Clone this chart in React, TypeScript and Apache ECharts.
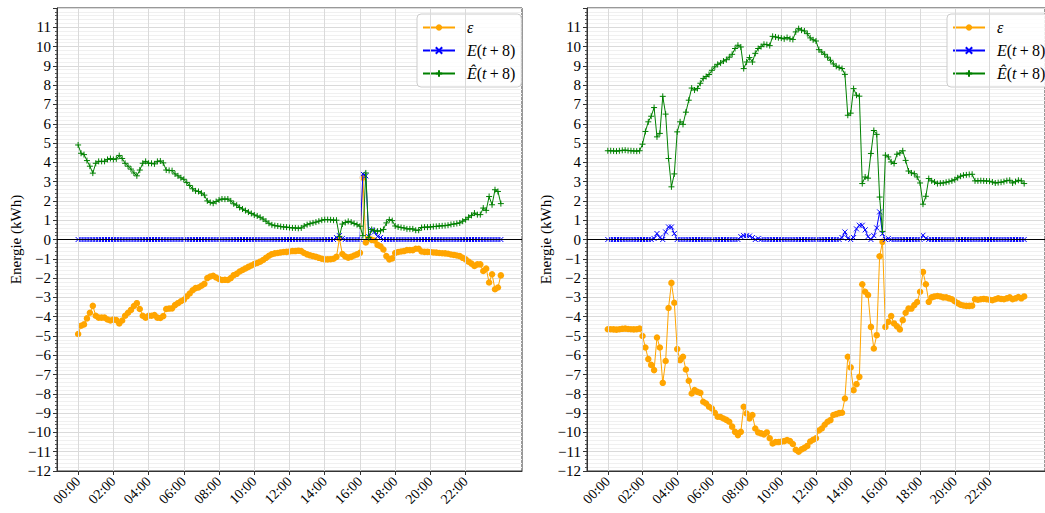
import React, { useEffect, useRef } from "react";
import * as echarts from "echarts";

const STEP_MIN = 10;
const TICK_VALUES = [0, 120, 240, 360, 480, 600, 720, 840, 960, 1080, 1200, 1320];
const TICK_LABELS = ["00:00", "02:00", "04:00", "06:00", "08:00", "10:00", "12:00", "14:00", "16:00", "18:00", "20:00", "22:00"];

// ---------- left panel ----------
const leftEps = [
  -4.9, -4.47, -4.4, -4.09, -3.8, -3.44, -3.95, -4.05, -4.05, -4.05,
  -4.15, -4.2, -4.15, -4.18, -4.35, -4.2, -3.95, -3.8, -3.65, -3.45,
  -3.3, -3.6, -3.95, -4.05, -3.95, -3.95, -3.92, -4.05, -4.07, -3.97,
  -3.6, -3.58, -3.57, -3.4, -3.3, -3.2, -3.12, -2.95, -2.8, -2.63,
  -2.52, -2.49, -2.4, -2.3, -2.0, -1.92, -1.88, -1.97, -2.05, -2.1,
  -2.09, -2.1, -2.0, -1.85, -1.78, -1.66, -1.58, -1.5, -1.42, -1.35,
  -1.27, -1.22, -1.15, -1.06, -0.95, -0.84, -0.76, -0.72, -0.7, -0.67,
  -0.65, -0.64, -0.62, -0.6, -0.6, -0.58, -0.6, -0.7, -0.77, -0.82,
  -0.86, -0.9, -0.95, -1.0, -1.03, -1.03, -1.02, -1.0, -0.9, 0.05,
  -0.75, -0.88, -0.94, -0.9, -0.83, -0.77, -0.69, 3.2, -0.15, 0.05,
  -0.02, -0.05, -0.28, -0.35, -0.52, -0.86, -1.03, -0.98, -0.7, -0.65,
  -0.62, -0.6, -0.55, -0.55, -0.55, -0.48, -0.48, -0.62, -0.64, -0.64,
  -0.65, -0.67, -0.68, -0.7, -0.71, -0.72, -0.74, -0.78, -0.8, -0.83,
  -0.86, -0.95, -1.03, -1.15, -1.25, -1.37, -1.29, -1.29, -1.63, -1.51,
  -2.23, -1.8, -2.58, -2.49, -1.86,
];
const leftE = [
  0, 0, 0, 0, 0, 0, 0, 0, 0, 0,
  0, 0, 0, 0, 0, 0, 0, 0, 0, 0,
  0, 0, 0, 0, 0, 0, 0, 0, 0, 0,
  0, 0, 0, 0, 0, 0, 0, 0, 0, 0,
  0, 0, 0, 0, 0, 0, 0, 0, 0, 0,
  0, 0, 0, 0, 0, 0, 0, 0, 0, 0,
  0, 0, 0, 0, 0, 0, 0, 0, 0, 0,
  0, 0, 0, 0, 0, 0, 0, 0, 0, 0,
  0, 0, 0, 0, 0, 0, 0, 0, 0.1, 0.2,
  0.05, 0, 0, 0, 0, 0, 0, 3.4, 3.3, 0.15,
  0.5, 0.4, 0.15, 0.1, 0, 0, 0, 0, 0, 0,
  0, 0, 0, 0, 0, 0, 0, 0, 0, 0,
  0, 0, 0, 0, 0, 0, 0, 0, 0, 0,
  0, 0, 0, 0, 0, 0, 0, 0, 0, 0,
  0, 0, 0, 0, 0,
];
const leftEhat = [
  4.9, 4.47, 4.4, 4.09, 3.8, 3.44, 3.95, 4.05, 4.05, 4.05,
  4.15, 4.2, 4.15, 4.18, 4.35, 4.2, 3.95, 3.8, 3.65, 3.45,
  3.3, 3.6, 3.95, 4.05, 3.95, 3.95, 3.92, 4.05, 4.07, 3.97,
  3.6, 3.58, 3.57, 3.4, 3.3, 3.2, 3.12, 2.95, 2.8, 2.63,
  2.52, 2.49, 2.4, 2.3, 2.0, 1.92, 1.88, 1.97, 2.05, 2.1,
  2.09, 2.1, 2.0, 1.85, 1.78, 1.66, 1.58, 1.5, 1.42, 1.35,
  1.27, 1.22, 1.15, 1.06, 0.95, 0.84, 0.76, 0.72, 0.7, 0.67,
  0.65, 0.64, 0.62, 0.6, 0.6, 0.58, 0.6, 0.7, 0.77, 0.82,
  0.86, 0.9, 0.95, 1.0, 1.03, 1.03, 1.02, 1.0, 1.0, 0.15,
  0.8, 0.88, 0.94, 0.9, 0.83, 0.77, 0.69, 0.2, 3.45, 0.1,
  0.52, 0.45, 0.43, 0.45, 0.52, 0.86, 1.03, 0.98, 0.7, 0.65,
  0.62, 0.6, 0.55, 0.55, 0.55, 0.48, 0.48, 0.62, 0.64, 0.64,
  0.65, 0.67, 0.68, 0.7, 0.71, 0.72, 0.74, 0.78, 0.8, 0.83,
  0.86, 0.95, 1.03, 1.15, 1.25, 1.37, 1.29, 1.29, 1.63, 1.51,
  2.23, 1.8, 2.58, 2.49, 1.86,
];

// ---------- right panel ----------
const rightEps = [
  -4.65, -4.65, -4.66, -4.67, -4.65, -4.63, -4.62, -4.64, -4.65, -4.66,
  -4.65, -4.62, -5.0, -5.6, -6.2, -6.5, -6.77, -5.08, -5.6, -7.43,
  -6.3, -3.55, -2.25, -3.28, -5.68, -6.25, -6.08, -6.74, -7.32, -7.98,
  -7.8, -7.9, -7.95, -8.41, -8.5, -8.67, -8.76, -8.98, -9.19, -9.2,
  -9.28, -9.35, -9.45, -9.7, -9.97, -10.14, -9.97, -8.67, -9.02, -9.28,
  -9.1, -9.8, -10.0, -10.05, -10.1, -10.0, -10.3, -10.57, -10.5, -10.5,
  -10.48, -10.45, -10.4, -10.45, -10.6, -10.9, -11.0, -10.88, -10.8, -10.7,
  -10.47, -10.38, -10.3, -9.9, -9.8, -9.6, -9.45, -9.36, -9.1, -9.05,
  -9.0, -8.98, -8.24, -6.08, -6.63, -7.81, -7.5, -7.12, -2.32, -2.71,
  -2.88, -4.53, -5.65, -4.96, -0.87, -0.12, -4.53, -4.27, -3.97, -4.35,
  -4.5, -4.66, -4.18, -3.8, -3.58, -3.58, -3.4, -3.24, -2.71, -1.68,
  -2.32, -3.23, -3.0, -2.95, -2.93, -2.95, -3.0, -3.0, -3.05, -3.1,
  -3.2, -3.3, -3.38, -3.42, -3.44, -3.44, -3.43, -3.1, -3.12, -3.1,
  -3.08, -3.1, -3.12, -3.15, -3.1, -3.05, -3.08, -3.1, -3.05, -3.0,
  -3.1, -3.05, -2.98, -3.05, -2.95,
];
const rightE = [
  0, 0, 0, 0, 0, 0, 0, 0, 0, 0,
  0, 0, 0, 0, 0, 0, 0.05, 0.31, 0.1, 0,
  0.39, 0.65, 0.65, 0.31, 0, 0, 0, 0, 0, 0,
  0, 0, 0, 0, 0, 0, 0, 0, 0, 0,
  0, 0, 0, 0, 0, 0, 0.15, 0.2, 0.2, 0.18,
  0.1, 0, 0.05, 0, 0, 0, 0, 0, 0, 0,
  0, 0, 0, 0, 0, 0, 0, 0, 0, 0,
  0, 0, 0, 0, 0, 0, 0, 0, 0, 0,
  0, 0.1, 0.39, 0.05, 0, 0.1, 0.55, 0.74, 0.74, 0.5,
  0.15, 0, 0.2, 0.6, 1.43, 0.3, 0, 0.05, 0, 0,
  0, 0, 0, 0, 0, 0, 0, 0, 0, 0.22,
  0.05, 0, 0, 0, 0, 0, 0, 0, 0, 0,
  0, 0, 0, 0, 0, 0, 0, 0, 0, 0,
  0, 0, 0, 0, 0, 0, 0, 0, 0, 0,
  0, 0, 0, 0, 0,
];
const rightEhat = [
  4.6, 4.6, 4.59, 4.58, 4.6, 4.62, 4.63, 4.61, 4.6, 4.59,
  4.58, 4.6, 4.94, 5.6, 6.1, 6.39, 6.84, 5.32, 5.5, 7.42,
  6.5, 4.2, 2.73, 3.4, 5.58, 6.1, 5.97, 6.6, 7.22, 7.85,
  7.75, 7.83, 8.1, 8.34, 8.45, 8.55, 8.77, 8.95, 9.08, 9.15,
  9.25, 9.32, 9.45, 9.6, 9.9, 10.07, 9.98, 8.86, 9.2, 9.43,
  9.2, 9.65, 9.9, 10.0, 10.12, 10.1, 10.05, 10.53, 10.5, 10.46,
  10.44, 10.4, 10.47, 10.4, 10.37, 10.76, 10.93, 10.85, 10.81, 10.67,
  10.45, 10.35, 10.29, 9.84, 9.72, 9.6, 9.45, 9.29, 9.1, 8.98,
  8.91, 8.86, 8.56, 6.44, 6.55, 7.82, 7.48, 7.43, 2.9, 3.24,
  3.18, 4.46, 5.65, 5.45, 2.2, 0.42, 4.37, 4.28, 4.02, 3.94,
  4.42, 4.48, 4.6, 4.1, 3.55, 3.45, 3.41, 3.24, 2.93, 1.83,
  2.24, 3.16, 3.04, 2.98, 2.9, 2.92, 2.93, 2.97, 3.0, 3.04,
  3.1, 3.2, 3.28, 3.33, 3.35, 3.37, 3.38, 3.04, 3.04, 3.05,
  3.04, 3.03, 3.02, 2.98, 2.93, 2.95, 2.97, 3.0, 3.05, 3.07,
  2.93, 3.0, 3.07, 3.04, 2.9,
];

const FONT = "Liberation Serif";
const ORANGE = "#ffa500";
const BLUE = "#0000ff";
const GREEN = "#008000";
const X_SYMBOL = "path://M0,0L10,10M10,0L0,10";
const PLUS_SYMBOL = "path://M5,0L5,10M0,5L10,5";

const toPairs = (arr: number[]) => arr.map((v, i) => [i * STEP_MIN, v]);
const fmtY = (v: number) => (v >= 12 ? "" : String(v).replace("-", "\u2212"));
const fmtX = (v: number) => {
  const k = TICK_VALUES.indexOf(v);
  return k >= 0 ? TICK_LABELS[k] : "";
};

const GRIDS = [
  { left: 57, top: 8, width: 465, height: 463 },
  { left: 587, top: 8, width: 465, height: 463 },
];
const LEGEND_LEFT = [417, 947];

export default function App() {
  const ref = useRef<HTMLDivElement>(null);
  useEffect(() => {
    document.body.style.margin = "0";
    const chart = echarts.init(ref.current!, null, { renderer: "svg" });
    const panels = [
      { eps: leftEps, e: leftE, ehat: leftEhat },
      { eps: rightEps, e: rightE, ehat: rightEhat },
    ];
    const series: any[] = [];
    panels.forEach((p, gi) => {
      series.push({
        type: "line",
        name: "_grid",
        xAxisIndex: gi,
        yAxisIndex: gi,
        data: [[0, 0]],
        showSymbol: false,
        lineStyle: { opacity: 0 },
        silent: true,
        z: 1,
        markLine: {
          silent: true,
          symbol: ["none", "none"],
          label: { show: false },
          emphasis: { disabled: true },
          lineStyle: { color: "#dadada", width: 1, type: "solid" },
          data: [
            ...TICK_VALUES.map((v) => ({ xAxis: v })),
            { yAxis: 0, lineStyle: { color: "#000", width: 1, type: "solid" } },
          ],
        },
      });
      series.push({
        type: "line",
        name: "eps",
        xAxisIndex: gi,
        yAxisIndex: gi,
        data: toPairs(p.eps),
        symbol: "circle",
        symbolSize: 6.5,
        showAllSymbol: true,
        lineStyle: { color: ORANGE, width: 1 },
        itemStyle: { color: ORANGE },
        z: 3,
        emphasis: { disabled: true },
      });
      series.push({
        type: "line",
        name: "E",
        xAxisIndex: gi,
        yAxisIndex: gi,
        data: toPairs(p.e),
        symbol: X_SYMBOL,
        symbolSize: 5,
        showAllSymbol: true,
        lineStyle: { color: BLUE, width: 1 },
        itemStyle: { color: "rgba(0,0,0,0)", borderColor: BLUE, borderWidth: 1 },
        z: 4,
        emphasis: { disabled: true },
      });
      series.push({
        type: "line",
        name: "Ehat",
        xAxisIndex: gi,
        yAxisIndex: gi,
        data: toPairs(p.ehat),
        symbol: PLUS_SYMBOL,
        symbolSize: 6,
        showAllSymbol: true,
        lineStyle: { color: GREEN, width: 1 },
        itemStyle: { color: "rgba(0,0,0,0)", borderColor: GREEN, borderWidth: 1 },
        z: 5,
        emphasis: { disabled: true },
      });
    });

    const legendText: Record<string, string> = {
      eps: "{s|}{i|\u03b5}",
      E: "{s|}{i|E}{n|(}{i|t}{n|\u2009+\u20098)}",
      Ehat: "{s|}{i|\u00ca}{n|(}{i|t}{n|\u2009+\u20098)}",
    };

    const option: any = {
      animation: false,
      grid: GRIDS.map((g) => ({ ...g, show: true, borderColor: "#333", borderWidth: 1, backgroundColor: "transparent" })),
      legend: LEGEND_LEFT.map((l) => ({
        left: l,
        top: 14,
        orient: "vertical",
        data: ["eps", "E", "Ehat"],
        selectedMode: false,
        backgroundColor: "rgba(255,255,255,0.85)",
        borderColor: "#cccccc",
        borderWidth: 1,
        borderRadius: 4,
        padding: [5, 6, 5, 5],
        itemWidth: 32,
        itemHeight: 8,
        itemGap: 6,
        formatter: (name: string) => legendText[name],
        textStyle: {
          fontFamily: FONT,
          fontSize: 16,
          lineHeight: 17,
          color: "#000",
          rich: {
            s: { width: 7 },
            i: { fontFamily: FONT, fontStyle: "italic", fontSize: 16, lineHeight: 17, color: "#000" },
            n: { fontFamily: FONT, fontSize: 16, lineHeight: 17, color: "#000" },
          },
        },
      })),
      xAxis: GRIDS.map((_, gi) => ({
        type: "value",
        gridIndex: gi,
        min: -72,
        max: 1512,
        axisLine: { show: true, onZero: false, lineStyle: { color: "#333" } },
        axisTick: { show: true, customValues: TICK_VALUES, length: 4, lineStyle: { color: "#333" } },
        axisLabel: {
          customValues: TICK_VALUES,
          rotate: 45,
          formatter: fmtX,
          fontFamily: FONT,
          fontSize: 14,
          color: "#000",
          margin: 8,
        },
        splitLine: { show: false },
      })),
      yAxis: GRIDS.map((_, gi) => ({
        type: "value",
        gridIndex: gi,
        min: -12,
        max: 12,
        interval: 1,
        axisLine: { show: true, onZero: false, lineStyle: { color: "#333" } },
        axisTick: { show: true, length: 4, lineStyle: { color: "#333" } },
        minorTick: { show: true, splitNumber: 5, length: 2, lineStyle: { color: "#555" } },
        minorSplitLine: { show: true, lineStyle: { color: "#f0f0f0", width: 1 } },
        splitLine: { show: true, lineStyle: { color: "#dadada", width: 1 } },
        axisLabel: { formatter: fmtY, fontFamily: FONT, fontSize: 15, color: "#000", margin: 6 },
        name: "Energie (kWh)",
        nameLocation: "middle",
        nameGap: 34,
        nameTextStyle: { fontFamily: FONT, fontSize: 15, color: "#000" },
      })),
      series,
    };
    chart.setOption(option);
    return () => chart.dispose();
  }, []);
  return <div ref={ref} style={{ width: 1045, height: 513 }} />;
}
